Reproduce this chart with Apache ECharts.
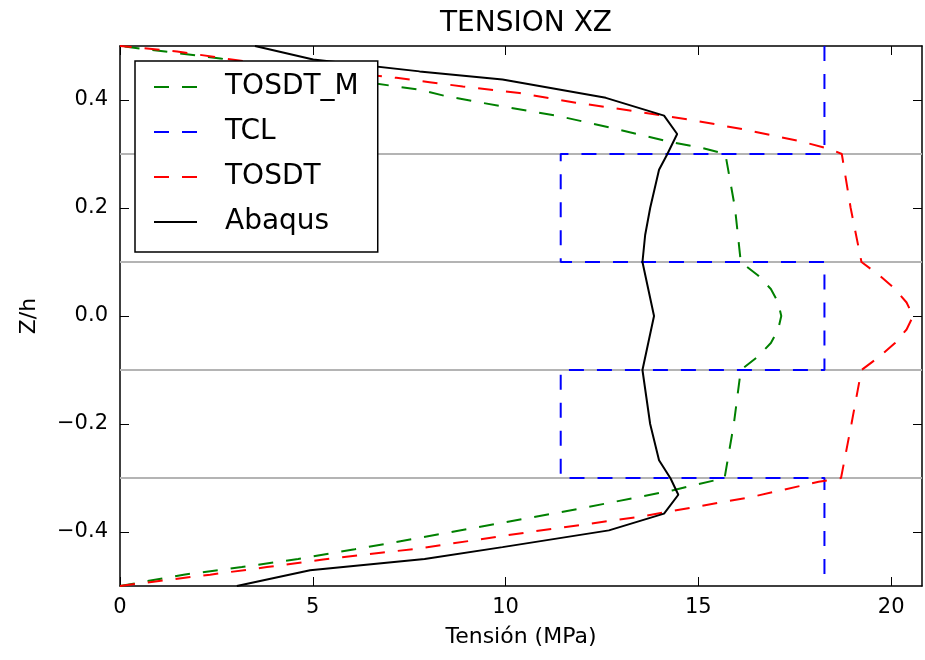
<!DOCTYPE html>
<html>
<head>
<meta charset="utf-8">
<script src="https://cdn.jsdelivr.net/npm/echarts@6/dist/echarts.min.js"></script>
<style>
  html, body { margin: 0; padding: 0; background: #fff; }
  #chart { width: 925px; height: 660px; }
</style>
</head>
<body>
<div id="chart"></div>
<script>
// tension xz through the thickness, z/h from bottom to top
var xTicks = [0, 5, 10, 15, 20];
var zTicks = [-0.4, -0.2, 0, 0.2, 0.4];
var layerBounds = [-0.3, -0.1, 0.1, 0.3];

var tosdtMZ = [-0.5, -0.479, -0.465, -0.45, -0.432, -0.413, -0.385, -0.357, -0.323, -0.3, -0.2, -0.1, -0.075, -0.05, -0.025, 0,
  0.025, 0.05, 0.075, 0.1, 0.2, 0.3, 0.311, 0.323, 0.348, 0.37, 0.388, 0.407, 0.419, 0.45, 0.477, 0.5];
var tosdtMX = [0, 1.65, 3.16, 4.62, 6.09, 7.6, 9.75, 11.91, 14.32, 15.68, 15.92, 16.1, 16.55, 16.88, 17.07, 17.15,
  17.07, 16.88, 16.55, 16.1, 15.95, 15.7, 15.1, 14.24, 12.77, 11.39, 9.92, 8.46, 7.77, 4.7, 2.6, 0];

var tclZ = [0.5, 0.3, 0.3, 0.1, 0.1, -0.1, -0.1, -0.3, -0.3, -0.5];
var tclX = [18.27, 18.27, 11.43, 11.43, 18.27, 18.27, 11.43, 11.43, 18.27, 18.27];

var tosdtZ = [-0.5, -0.492, -0.479, -0.465, -0.451, -0.438, -0.431, -0.4, -0.372, -0.335, -0.307, -0.3, -0.2, -0.1, -0.075, -0.05, -0.025, 0,
  0.025, 0.05, 0.075, 0.1, 0.2, 0.3, 0.308, 0.323, 0.345, 0.364, 0.379, 0.395, 0.413, 0.425, 0.433, 0.441, 0.465, 0.478, 0.49, 0.5];
var tosdtX = [0, 0.87, 2.34, 3.81, 5.27, 6.82, 7.7, 10.62, 13.46, 16.39, 18.12, 18.7, 18.97, 19.23, 19.7, 20.1, 20.4, 20.57,
  20.4, 20.1, 19.7, 19.23, 18.95, 18.72, 18.46, 17.68, 16.22, 14.75, 13.37, 11.82, 10.36, 8.89, 8.03, 7.17, 3.9, 2.6, 1.48, 0];

var abaqusZ = [-0.5, -0.471, -0.45, -0.428, -0.397, -0.366, -0.331, -0.301, -0.267, -0.2, -0.15, -0.1, -0.05, 0,
  0.05, 0.1, 0.15, 0.2, 0.271, 0.299, 0.337, 0.371, 0.404, 0.438, 0.453, 0.475, 0.5];
var abaqusX = [3.03, 4.93, 7.9, 9.92, 12.68, 14.11, 14.48, 14.28, 13.98, 13.75, 13.65, 13.55, 13.7, 13.85,
  13.7, 13.55, 13.62, 13.75, 13.98, 14.19, 14.45, 14.11, 12.6, 9.92, 7.77, 5.01, 3.5];

function pairs(xs, zs) {
  return xs.map(function (x, i) { return [x, zs[i]]; });
}

var font = 'DejaVu Sans';
var dash = [15, 13];

function curve(name, xs, zs, color, type) {
  return {
    name: name,
    type: 'line',
    data: pairs(xs, zs),
    symbol: 'none',
    showSymbol: false,
    z: 3,
    lineStyle: { color: color, width: 2, type: type },
    itemStyle: { color: color }
  };
}

function frameAxis(extra) {
  var ax = {
    type: 'value',
    axisLine: { onZero: false, lineStyle: { color: '#000', width: 1.5 } },
    axisTick: { inside: true, length: 9, lineStyle: { color: '#000' } },
    axisLabel: { show: false },
    splitLine: { show: false }
  };
  for (var k in extra) {
    if (typeof extra[k] == 'object' && ax[k] && !Array.isArray(extra[k])) {
      ax[k] = Object.assign({}, ax[k], extra[k]);
    } else {
      ax[k] = extra[k];
    }
  }
  return ax;
}

var chart = echarts.init(document.getElementById('chart'));
chart.setOption({
  animation: false,
  backgroundColor: '#fff',
  title: {
    text: 'TENSION XZ',
    left: 521,
    top: 5,
    textAlign: 'center',
    textStyle: { fontFamily: font, fontSize: 28, fontWeight: 'normal', color: '#000' }
  },
  grid: { left: 120, right: 3, top: 46, bottom: 74, containLabel: false },
  legend: {
    data: ['TOSDT_M', 'TCL', 'TOSDT', 'Abaqus'],
    orient: 'vertical',
    left: 135,
    top: 61,
    backgroundColor: '#fff',
    borderColor: '#000',
    borderWidth: 1.5,
    borderRadius: 0,
    padding: [11, 19, 15, 18],
    itemWidth: 43,
    itemHeight: 14,
    itemGap: 15,
    selectedMode: false,
    itemStyle: { color: 'rgba(0,0,0,0)', borderWidth: 0, opacity: 0 },
    textStyle: { fontFamily: font, fontSize: 28, lineHeight: 30, color: '#000', padding: [0, 0, 0, 23] }
  },
  xAxis: [
    frameAxis({
      position: 'bottom', min: 0, max: 20.8,
      name: 'Tensión (MPa)', nameLocation: 'middle', nameGap: 40,
      nameTextStyle: { fontFamily: font, fontSize: 22, color: '#000' },
      axisTick: { customValues: xTicks },
      axisLabel: { show: true, customValues: xTicks, margin: 11, fontFamily: font, fontSize: 21, color: '#000' }
    }),
    frameAxis({ position: 'top', min: 0, max: 20.8, axisTick: { customValues: xTicks } })
  ],
  yAxis: [
    frameAxis({
      position: 'left', min: -0.5, max: 0.5,
      name: 'Z/h', nameLocation: 'middle', nameGap: 80, nameRotate: 90,
      nameTextStyle: { fontFamily: font, fontSize: 22, color: '#000' },
      axisTick: { customValues: zTicks },
      axisLabel: {
        show: true, customValues: zTicks, margin: 12, fontFamily: font, fontSize: 21, color: '#000',
        formatter: function (v) { return v.toFixed(1).replace('-', '\u2212'); }
      }
    }),
    frameAxis({ position: 'right', min: -0.5, max: 0.5, axisTick: { customValues: zTicks } })
  ],
  series: [
    {
      name: 'layers',
      type: 'line',
      data: [],
      z: 1,
      markLine: {
        silent: true,
        z: 1,
        symbol: 'none',
        label: { show: false },
        lineStyle: { color: '#b4b4b4', width: 2, type: 'solid' },
        data: layerBounds.map(function (v) { return { yAxis: v }; })
      }
    },
    curve('TOSDT_M', tosdtMX, tosdtMZ, '#008000', dash),
    curve('TCL', tclX, tclZ, '#0000ff', dash),
    curve('TOSDT', tosdtX, tosdtZ, '#ff0000', dash),
    curve('Abaqus', abaqusX, abaqusZ, '#000000', 'solid')
  ]
});
</script>
</body>
</html>
